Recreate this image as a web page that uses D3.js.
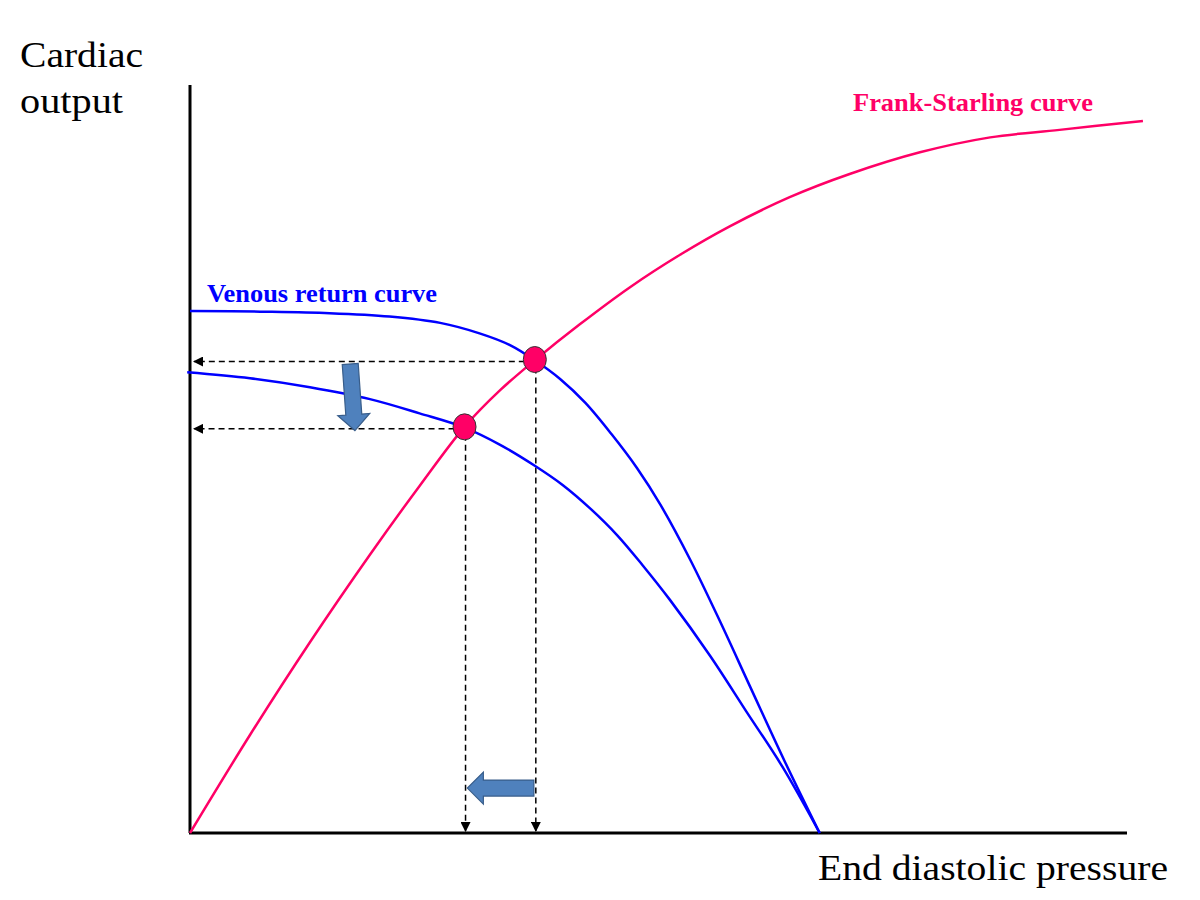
<!DOCTYPE html>
<html>
<head>
<meta charset="utf-8">
<script src="https://cdn.jsdelivr.net/npm/d3@7"></script>
<style>
  body { margin: 0; background: #fff; }
  svg { display: block; }
</style>
</head>
<body>
<svg width="1200" height="900"></svg>
<script>
// curves, x = end diastolic pressure, y = cardiac output (arbitrary units 0-100)
var frankStarling = [
  [0, 0], [6.4, 13.1], [12.8, 25.5], [19.2, 37.2], [24.5, 46.4], [29.3, 54.3],
  [33.1, 59.2], [36.8, 63.2], [41.6, 68.0], [47.0, 73.0], [52.3, 77.3],
  [57.6, 81.1], [64.0, 85.0], [70.4, 88.1], [77.9, 91.0], [85.4, 93.0],
  [92.8, 94.0], [101.7, 95.2]
];
var venousReturn1 = [
  [0, 69.8], [7.5, 69.7], [14.9, 69.5], [21.3, 69.05], [26.7, 68.2], [30.9, 66.8],
  [34.2, 65.2], [36.8, 63.2], [39.5, 60.7], [42.2, 57.5], [45.0, 53.3],
  [47.7, 48.8], [50.2, 43.9], [53.4, 36.5], [56.6, 28.2], [59.8, 19.5],
  [63.5, 9.5], [67.2, 0]
];
var venousReturn2 = [
  [-0.3, 61.6], [6.4, 60.8], [12.8, 59.6], [19.2, 58.0], [24.5, 56.1], [29.3, 54.2],
  [33.1, 51.9], [36.8, 49.1], [39.8, 46.5], [42.7, 43.4], [45.6, 39.8],
  [48.3, 35.8], [51.2, 31.2], [55.5, 23.7], [59.4, 16.2], [63.3, 8.7], [67.2, 0]
];
// equilibrium points (before / after the shift)
var equilibria = [[36.8, 63.3], [29.3, 54.3]];
// shift arrows: [from, to]
var shiftArrows = [
  [[17.1, 62.7], [17.6, 53.8]],
  [[36.7, 6.0], [29.6, 6.0]]
];

var svg = d3.select("svg");

var x = d3.scaleLinear().domain([0, 100]).range([190, 1127]);
var y = d3.scaleLinear().domain([0, 100]).range([833, 85]);

var pink = "#ff0066", blue = "#0000ff";

var defs = svg.append("defs");
defs.append("marker")
    .attr("id", "tip")
    .attr("viewBox", "0 0 10 10")
    .attr("refX", 9).attr("refY", 5)
    .attr("markerWidth", 10).attr("markerHeight", 10)
    .attr("markerUnits", "userSpaceOnUse")
    .attr("orient", "auto")
  .append("path")
    .attr("d", "M0,0 L10,5 L0,10 Z")
    .attr("fill", "#000");

// axes (no ticks)
svg.append("line")
    .attr("x1", x(0)).attr("x2", x(0))
    .attr("y1", y(0)).attr("y2", y(100))
    .attr("stroke", "#000").attr("stroke-width", 3);
svg.append("line")
    .attr("x1", x(0) - 1).attr("x2", x(100))
    .attr("y1", y(0)).attr("y2", y(0))
    .attr("stroke", "#000").attr("stroke-width", 3);

var line = d3.line()
    .x(function(d) { return x(d[0]); })
    .y(function(d) { return y(d[1]); })
    .curve(d3.curveCatmullRom.alpha(0.5));

// dashed guide lines from each equilibrium to the axes
var guides = svg.append("g")
    .attr("stroke", "#000")
    .attr("stroke-width", 1.5)
    .attr("stroke-dasharray", "6,4")
    .attr("fill", "none");
equilibria.forEach(function(p) {
  guides.append("line")
      .attr("x1", x(p[0])).attr("y1", y(p[1]) + 2)
      .attr("x2", x(0) + 4).attr("y2", y(p[1]) + 2)
      .attr("marker-end", "url(#tip)");
  guides.append("line")
      .attr("x1", x(p[0]) + 1).attr("y1", y(p[1]) + 8)
      .attr("x2", x(p[0]) + 1).attr("y2", y(0) - 2)
      .attr("marker-end", "url(#tip)");
});

svg.append("path")
    .datum(frankStarling)
    .attr("d", line)
    .attr("fill", "none")
    .attr("stroke", pink)
    .attr("stroke-width", 2.5);

[venousReturn1, venousReturn2].forEach(function(s) {
  svg.append("path")
      .datum(s)
      .attr("d", line)
      .attr("fill", "none")
      .attr("stroke", blue)
      .attr("stroke-width", 2.5);
});

// block arrows showing the shift
function blockArrow(a, b) {
  var x0 = x(a[0]), y0 = y(a[1]), x1 = x(b[0]), y1 = y(b[1]);
  var len = Math.hypot(x1 - x0, y1 - y0);
  var ang = Math.atan2(y1 - y0, x1 - x0) * 180 / Math.PI;
  var bw = 8, hw = 16, hl = 16;
  var pts = [[0, -bw], [len - hl, -bw], [len - hl, -hw], [len, 0],
             [len - hl, hw], [len - hl, bw], [0, bw]];
  svg.append("path")
      .attr("d", "M" + pts.join("L") + "Z")
      .attr("transform", "translate(" + x0 + "," + y0 + ") rotate(" + ang + ")")
      .attr("fill", "#4f81bd")
      .attr("stroke", "#385d8a")
      .attr("stroke-width", 1.2);
}
shiftArrows.forEach(function(d) { blockArrow(d[0], d[1]); });

svg.selectAll("ellipse.eq")
    .data(equilibria)
  .enter().append("ellipse")
    .attr("class", "eq")
    .attr("cx", function(d) { return x(d[0]); })
    .attr("cy", function(d) { return y(d[1]); })
    .attr("rx", 11.5)
    .attr("ry", 13)
    .attr("fill", pink)
    .attr("stroke", "#333")
    .attr("stroke-width", 1);

// labels
var serif = "'Liberation Serif', 'Times New Roman', serif";
function label(txt, px, py, size, len, opts) {
  var t = svg.append("text")
      .attr("x", px).attr("y", py)
      .attr("font-family", serif).attr("font-size", size)
      .attr("textLength", len).attr("lengthAdjust", "spacingAndGlyphs")
      .text(txt);
  if (opts) Object.keys(opts).forEach(function(k) { t.attr(k, opts[k]); });
  return t;
}
label("Cardiac", 20, 67, 36, 123);
label("output", 20, 113, 36, 103);
label("End diastolic pressure", 818, 880, 36, 350);
label("Frank-Starling curve", 853, 111, 26, 240, { "font-weight": "bold", fill: pink });
label("Venous return curve", 207, 302, 26, 230, { "font-weight": "bold", fill: blue });
</script>
</body>
</html>
